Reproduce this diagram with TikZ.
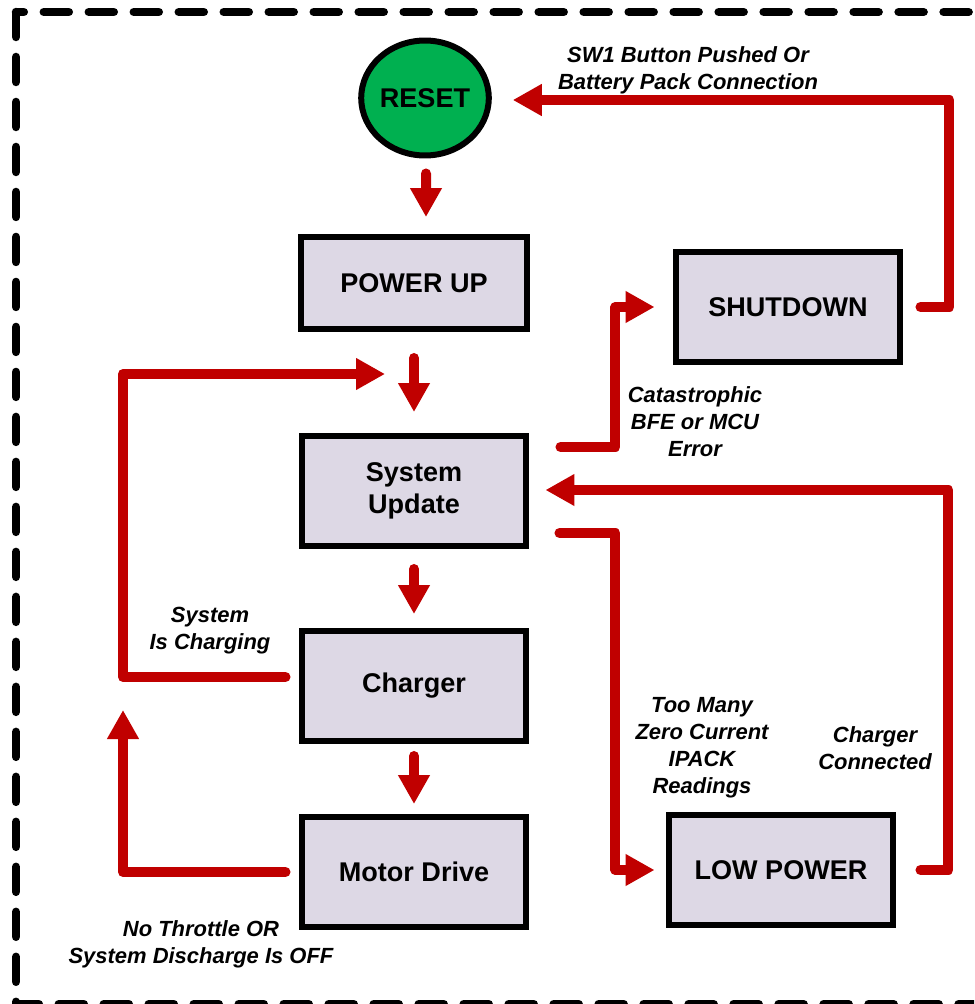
\documentclass[tikz,border=0pt]{standalone}
\usepackage{fontspec}
\setmainfont{Liberation Sans}
\usepackage{xcolor}
\usepackage{tikz}
\usetikzlibrary{arrows.meta,positioning}
\usetikzlibrary{shapes.geometric}
\definecolor{flowred}{HTML}{C00000}
\definecolor{stategray}{HTML}{DDD8E5}
\definecolor{resetgreen}{HTML}{00B050}
\tikzset{
  statebox/.style={
      draw,
      line width=0.12cm,
      fill=stategray,
      minimum width=4.5cm,
      minimum height=2.2cm,
      align=center,
      font=\fontsize{15.4pt}{18.2pt}\selectfont\bfseries
    },
  resetnode/.style={
      draw,
      ellipse,
      line width=0.12cm,
      fill=resetgreen,
      minimum width=2.4cm,
      minimum height=2.3cm,
      inner sep=0pt,
      font=\fontsize{15.4pt}{18.2pt}\selectfont\bfseries
    },
  flow/.style={
      ->,
      draw=flowred,
      line width=0.2cm,
      line cap=round,
      line join=round
    },
  cond/.style={
      align=center,
      inner sep=0pt,
      font=\fontsize{12.5pt}{15.4pt}\selectfont\bfseries\itshape
    },
  border/.style={
      line width=0.17cm,
      line cap=round,
      dash pattern=on 0.5cm off 0.4cm
    }
}
\begin{document}
\begin{tikzpicture}[x=0.02cm,y=-0.02cm,
  >={Triangle[length=0.58cm,width=0.6cm,color=flowred]}]
\useasboundingbox (0,0) rectangle (974,1004);
\clip (0,0) rectangle (974,1004);
\draw[border] (16,12) rectangle (985,1004);
% the shapes
\node[resetnode] at (425,98) (reset) {RESET};
\node[statebox,minimum width=4.54cm,minimum height=1.84cm] at (414,283) (pwr) {POWER UP};
\node[statebox] at (414,491) (sysupd) {System\\Update};
\node[statebox] at (414,686) (chg) {Charger};
\node[statebox] at (414,872) (motor) {Motor Drive};
\node[statebox] at (788,307) (shut) {SHUTDOWN};
\node[statebox] at (781,870) (low) {LOW POWER};
\coordinate (leftrail) at (123,374);
\coordinate (chgret) at (385,374);
\coordinate (motorret) at (123,710);

%the arrows
\draw[flow]
  ([xshift=0.02cm,yshift=-0.3cm]reset.south) --
  ([xshift=0.24cm,yshift=0.34cm]pwr.north);
\draw[flow]
  ([yshift=-0.52cm]pwr.south) --
  ([yshift=0.42cm]sysupd.north);
\draw[flow]
  ([yshift=-0.4cm]sysupd.south) --
  ([yshift=0.28cm]chg.north);
\draw[flow]
  ([yshift=-0.24cm]chg.south) --
  ([yshift=0.2cm]motor.north);
\draw[flow]
  ([xshift=-0.26cm,yshift=0.18cm]chg.west) -| (leftrail) -- (chgret);
\draw[flow]
  ([xshift=-0.26cm]motor.west) -| (motorret);
\draw[flow]
  ([xshift=0.62cm,yshift=0.88cm]sysupd.east) -- ++(55,0)
  |- ([xshift=-0.36cm]shut.west);
\draw[flow]
  ([xshift=0.34cm]shut.east) -- ++(29,0)
  |- ([xshift=0.42cm,yshift=-0.04cm]reset.east);
\draw[flow]
  ([xshift=0.48cm]low.east) -- ++(28,0)
  |- ([xshift=0.32cm,yshift=0.02cm]sysupd.east);
\draw[flow]
  ([xshift=0.6cm,yshift=-0.84cm]sysupd.east) -- ++(56,0)
  |- ([xshift=-0.22cm]low.west);

% the conditions
\node[cond] at (688,70) (swcond) {SW1 Button Pushed Or\\Battery Pack Connection};
\node[cond] at (695,422) (catcond) {Catastrophic\\BFE or MCU\\Error};
\node[cond] at (210,631) (chgcond) {System\\Is Charging};
\node[cond] at (702,748) (zerocond) {Too Many\\Zero Current\\IPACK\\Readings};
\node[cond] at (875,748) (conncond) {Charger\\Connected};
\node[cond] at (201,944) (throtcond) {No Throttle OR\\System Discharge Is OFF};
\end{tikzpicture}
\end{document}
